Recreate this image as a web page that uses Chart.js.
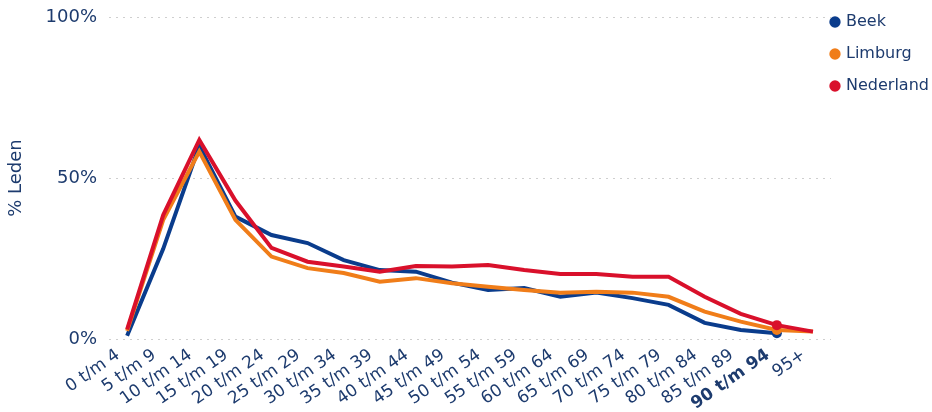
<!DOCTYPE html>
<html>
<head>
<meta charset="utf-8">
<script src="https://cdn.jsdelivr.net/npm/chart.js@4/dist/chart.umd.min.js"></script>
<style>
  html, body { margin: 0; padding: 0; background: #fff; }
  #wrap { width: 932px; height: 412px; }
</style>
</head>
<body>
<div id="wrap"><canvas id="lineChart"></canvas></div>
<script>
const ageLabels = ['0 t/m 4', '5 t/m 9', '10 t/m 14', '15 t/m 19', '20 t/m 24', '25 t/m 29', '30 t/m 34',
  '35 t/m 39', '40 t/m 44', '45 t/m 49', '50 t/m 54', '55 t/m 59', '60 t/m 64', '65 t/m 69',
  '70 t/m 74', '75 t/m 79', '80 t/m 84', '85 t/m 89', '90 t/m 94', '95+'];

const beek = [1, 28, 60, 38, 32.3, 29.8, 24.5, 21.4, 20.9, 17.5, 15.2, 15.8, 13.1, 14.4, 12.7, 10.6, 5, 2.8, 1.8, null];
const limburg = [2.5, 37, 58.2, 37, 25.6, 22, 20.5, 17.8, 18.9, 17.3, 16.2, 15.2, 14.4, 14.7, 14.4, 13.1, 8.5, 5.4, 2.8, 2.3];
const nederland = [3, 38.5, 61.8, 43, 28.3, 24, 22.5, 20.9, 22.7, 22.5, 23, 21.4, 20.2, 20.2, 19.3, 19.3, 13.1, 7.8, 4.3, 2.3];

const yTicks = [0, 50, 100];
const hoverIndex = 18; // highlighted category (90 t/m 94)

const textColor = '#1d3b6e';
const fontFamily = "'DejaVu Sans', Verdana, sans-serif";

const dotRadius = ageLabels.map((l, i) => i === hoverIndex ? 5 : 0);

function series(label, data, color, order) {
  return {
    label: label,
    data: data,
    borderColor: color,
    backgroundColor: color,
    borderWidth: 4,
    pointRadius: dotRadius,
    pointHoverRadius: dotRadius,
    pointBorderWidth: 0,
    pointBackgroundColor: color,
    tension: 0,
    order: order
  };
}

// legend sits a bit tighter to the plot than Chart.js puts it
const legendNudge = {
  id: 'legendNudge',
  afterLayout(chart) {
    const l = chart.legend;
    l.left -= 15;
    l.top -= 2; l.bottom -= 2;
  }
};

new Chart(document.getElementById('lineChart'), {
  type: 'line',
  data: {
    labels: ageLabels,
    datasets: [
      series('Beek', beek, '#0a3c8c', 2),
      series('Limburg', limburg, '#f07d19', 1),
      series('Nederland', nederland, '#d9102b', 0)
    ]
  },
  plugins: [legendNudge],
  options: {
    responsive: true,
    maintainAspectRatio: false,
    animation: false,
    events: [],
    layout: { padding: { top: 0, left: 6, right: 0, bottom: 0 } },
    plugins: {
      tooltip: { enabled: false },
      legend: {
        position: 'right',
        align: 'start',
        maxWidth: 101,
        labels: {
          usePointStyle: true,
          pointStyle: 'circle',
          boxWidth: 6,
          boxHeight: 8,
          padding: 16,
          color: textColor,
          font: { family: fontFamily, size: 16 },
          sort: (a, b) => a.datasetIndex - b.datasetIndex
        }
      }
    },
    scales: {
      x: {
        offset: true,
        grid: { display: false },
        border: { display: false },
        afterFit: (scale) => { scale.height = 73; },
        ticks: {
          color: textColor,
          minRotation: 35,
          maxRotation: 35,
          autoSkip: false,
          padding: -2,
          labelOffset: -9,
          font: (ctx) => ({
            family: fontFamily,
            size: 17,
            weight: ctx.index === hoverIndex ? 'bold' : 'normal'
          })
        }
      },
      y: {
        min: 0,
        max: 100,
        afterBuildTicks: (axis) => { axis.ticks = yTicks.map(v => ({ value: v })); },
        afterFit: (scale) => { scale.paddingTop = 17; },
        border: { display: false, dash: [2, 5] },
        grid: { color: '#cfcfcf', lineWidth: 1, drawTicks: false },
        ticks: {
          color: textColor,
          padding: 12,
          font: { family: fontFamily, size: 18 },
          callback: (v) => v + '%'
        },
        title: {
          display: true,
          text: '% Leden',
          color: textColor,
          font: { family: fontFamily, size: 18 },
          padding: { top: 0, bottom: 6 }
        }
      }
    }
  }
});
</script>
</body>
</html>
